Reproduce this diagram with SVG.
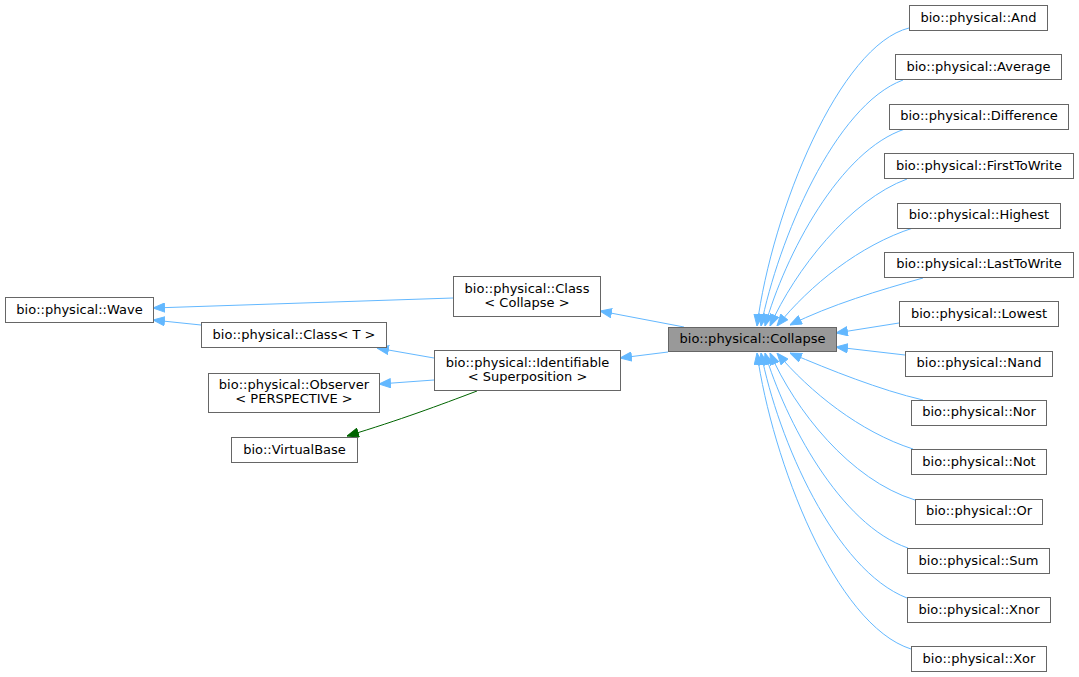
<svg xmlns="http://www.w3.org/2000/svg" width="1079" height="677" viewBox="0 0 1079 677">
<style>
.n rect{fill:#ffffff;stroke:#666666;stroke-width:1}
.n.cur rect{fill:#999999}
.n text{font-family:"DejaVu Sans",sans-serif;font-size:13px;fill:#000000;text-anchor:middle}
.e path{fill:none;stroke:#63b8ff;stroke-width:1}
.e path.g{stroke:#006400}
</style>
<defs>
<marker id="ab" markerUnits="userSpaceOnUse" viewBox="0 0 12 10" markerWidth="12" markerHeight="10" refX="12" refY="5" orient="auto">
<polygon points="0.5,0.5 12,5 0.5,9.5" fill="#63b8ff" stroke="#63b8ff" stroke-width="1"/>
</marker>
<marker id="ag" markerUnits="userSpaceOnUse" viewBox="0 0 12 10" markerWidth="12" markerHeight="10" refX="12" refY="5" orient="auto">
<polygon points="0.5,0.5 12,5 0.5,9.5" fill="#006400" stroke="#006400" stroke-width="1"/>
</marker>
</defs>
<rect width="1079" height="677" fill="#ffffff"/>
<g id="edges" class="e">
<path d="M453,298 L153,308" marker-end="url(#ab)"/>
<path d="M201,325 L153,320" marker-end="url(#ab)"/>
<path d="M434,358 L377,348" marker-end="url(#ab)"/>
<path d="M434,380 L379,384" marker-end="url(#ab)"/>
<path class="g" d="M477,391 C440,405 400,420 347,436" marker-end="url(#ag)"/>
<path d="M684,327 L600,311" marker-end="url(#ab)"/>
<path d="M668,352 L620,358" marker-end="url(#ab)"/>
<path d="M909,28 C840,45 772,210 757,326" marker-end="url(#ab)"/>
<path d="M903,80 C835,105 778,240 761,326" marker-end="url(#ab)"/>
<path d="M905,129 C840,150 785,255 765,326" marker-end="url(#ab)"/>
<path d="M907,179 C850,200 795,270 770,326" marker-end="url(#ab)"/>
<path d="M913,228 C860,245 810,285 777,326" marker-end="url(#ab)"/>
<path d="M923,278 C880,290 830,305 790,325" marker-end="url(#ab)"/>
<path d="M899,323 L836,333" marker-end="url(#ab)"/>
<path d="M905,355 L836,347" marker-end="url(#ab)"/>
<path d="M923,400 C880,390 830,370 790,353" marker-end="url(#ab)"/>
<path d="M913,449 C860,432 810,392 777,353" marker-end="url(#ab)"/>
<path d="M915,500 C850,480 795,410 770,353" marker-end="url(#ab)"/>
<path d="M908,548 C840,525 785,420 765,353" marker-end="url(#ab)"/>
<path d="M907,598 C835,570 778,440 761,353" marker-end="url(#ab)"/>
<path d="M911,649 C835,625 772,460 757,353" marker-end="url(#ab)"/>
</g>
<g id="wave" class="n"><rect x="5.5" y="297.5" width="148" height="25"/><text x="79.5" y="313.5">bio::physical::Wave</text></g>
<g id="classT" class="n"><rect x="201.5" y="322.5" width="185" height="25"/><text x="294" y="339">bio::physical::Class&lt; T &gt;</text></g>
<g id="observer" class="n"><rect x="208.5" y="373.5" width="171" height="39"/><text x="294" y="389">bio::physical::Observer</text><text x="294" y="403">&lt; PERSPECTIVE &gt;</text></g>
<g id="virtualbase" class="n"><rect x="231.5" y="437.5" width="126" height="25"/><text x="294.5" y="453.5">bio::VirtualBase</text></g>
<g id="classCollapse" class="n"><rect x="453.5" y="276.5" width="147" height="40"/><text x="527" y="293">bio::physical::Class</text><text x="527" y="307">&lt; Collapse &gt;</text></g>
<g id="identifiable" class="n"><rect x="434.5" y="350.5" width="186" height="40"/><text x="527.5" y="367">bio::physical::Identifiable</text><text x="527.5" y="381">&lt; Superposition &gt;</text></g>
<g id="collapse" class="n cur"><rect x="668.5" y="327.5" width="168" height="24"/><text x="752.5" y="343">bio::physical::Collapse</text></g>
<g id="and" class="n"><rect x="909.5" y="5.5" width="138" height="25"/><text x="978.5" y="21.5">bio::physical::And</text></g>
<g id="average" class="n"><rect x="895.5" y="54.5" width="166" height="25"/><text x="978.5" y="70.5">bio::physical::Average</text></g>
<g id="difference" class="n"><rect x="889.5" y="104.5" width="179" height="25"/><text x="979" y="120">bio::physical::Difference</text></g>
<g id="firsttowrite" class="n"><rect x="884.5" y="153.5" width="189" height="25"/><text x="979" y="169.5">bio::physical::FirstToWrite</text></g>
<g id="highest" class="n"><rect x="897.5" y="203.5" width="163" height="25"/><text x="979" y="219">bio::physical::Highest</text></g>
<g id="lasttowrite" class="n"><rect x="884.5" y="252.5" width="189" height="25"/><text x="979" y="268">bio::physical::LastToWrite</text></g>
<g id="lowest" class="n"><rect x="899.5" y="301.5" width="159" height="25"/><text x="979" y="317.5">bio::physical::Lowest</text></g>
<g id="nand" class="n"><rect x="905.5" y="351.5" width="147" height="25"/><text x="979" y="367">bio::physical::Nand</text></g>
<g id="nor" class="n"><rect x="911.5" y="400.5" width="135" height="25"/><text x="979" y="416">bio::physical::Nor</text></g>
<g id="not" class="n"><rect x="911.5" y="449.5" width="135" height="25"/><text x="979" y="465.5">bio::physical::Not</text></g>
<g id="or" class="n"><rect x="915.5" y="499.5" width="127" height="25"/><text x="979" y="515">bio::physical::Or</text></g>
<g id="sum" class="n"><rect x="907.5" y="548.5" width="142" height="25"/><text x="978.5" y="564.5">bio::physical::Sum</text></g>
<g id="xnor" class="n"><rect x="907.5" y="597.5" width="143" height="25"/><text x="979" y="613.5">bio::physical::Xnor</text></g>
<g id="xor" class="n"><rect x="911.5" y="646.5" width="135" height="25"/><text x="979" y="662.5">bio::physical::Xor</text></g>
</svg>
